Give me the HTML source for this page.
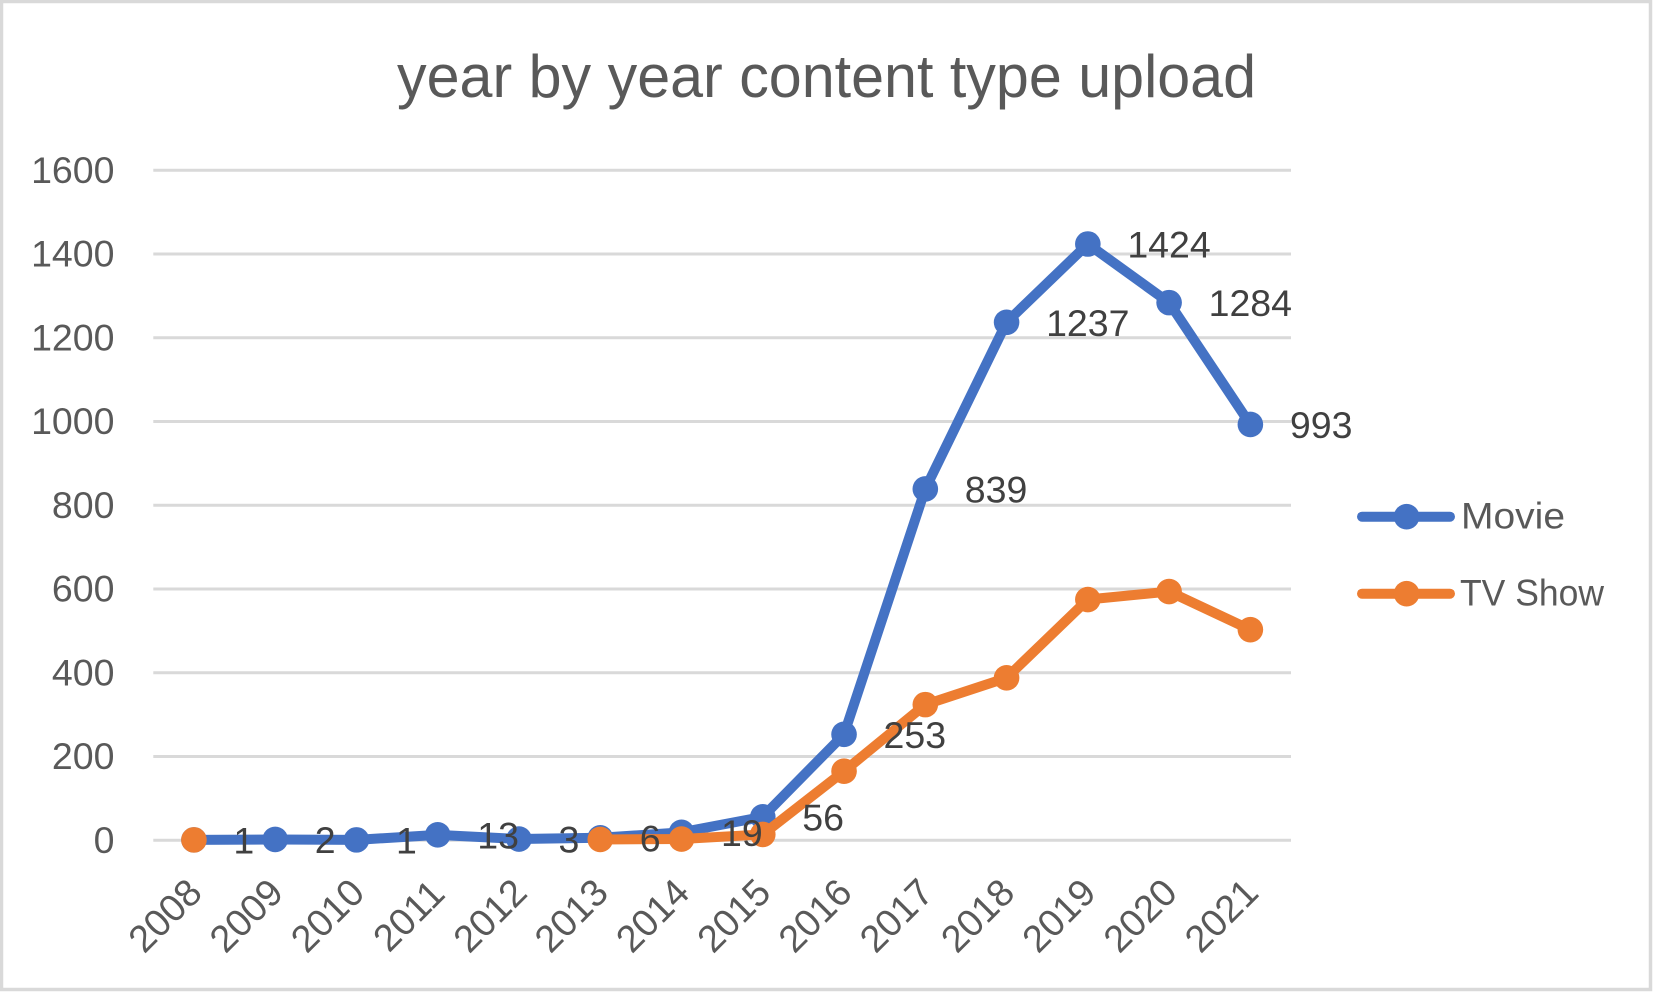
<!DOCTYPE html>
<html lang="en">
<head>
<meta charset="utf-8">
<title>year by year content type upload</title>
<style>
  html, body { margin: 0; padding: 0; background: #fff; }
  body { width: 1653px; height: 992px; overflow: hidden; }
  svg { display: block; font-family: "Liberation Sans", sans-serif; }
</style>
</head>
<body>
<svg id="chart" width="1653" height="992" viewBox="0 0 1653 992" xmlns="http://www.w3.org/2000/svg">
  <rect x="1.5" y="1.5" width="1649" height="988" fill="#ffffff" stroke="#d9d9d9" stroke-width="3.5"/>
  <text x="397" y="97" font-size="60" fill="#595959" textLength="859" lengthAdjust="spacingAndGlyphs">year by year content type upload</text>
  <g id="grid"></g>
  <g id="yticks"></g>
  <g id="xticks"></g>
  <g id="series"></g>
  <g id="labels"></g>
  <g>
    <g>
      <line x1="1362" y1="516.7" x2="1450" y2="516.7" stroke="#4472c4" stroke-width="10" stroke-linecap="round"/>
      <circle cx="1406.6" cy="516.7" r="12.8" fill="#4472c4"/>
      <text x="1461" y="528.5" font-size="37.5" fill="#595959" textLength="104" lengthAdjust="spacingAndGlyphs">Movie</text>
    </g>
    <g>
      <line x1="1362" y1="593.7" x2="1450" y2="593.7" stroke="#ed7d31" stroke-width="10" stroke-linecap="round"/>
      <circle cx="1406.6" cy="593.7" r="12.8" fill="#ed7d31"/>
      <text x="1460" y="605.5" font-size="37.5" fill="#595959" textLength="144" lengthAdjust="spacingAndGlyphs">TV Show</text>
    </g>
  </g>
</svg>
<script>
const categories = ["2008","2009","2010","2011","2012","2013","2014","2015","2016","2017","2018","2019","2020","2021"];
const movieValues = [1,2,1,13,3,6,19,56,253,839,1237,1424,1284,993];
const tvValues = [1,null,null,null,null,2,3,14,165,324,388,575,594,503];
const yTickValues = [0,200,400,600,800,1000,1200,1400,1600];

const NS = "http://www.w3.org/2000/svg";
const plotLeft = 153.3, plotRight = 1291, plotBottom = 840.3, plotTop = 170.3, yMax = 1600;
const xScale = i => plotLeft + (i + 0.5) * (plotRight - plotLeft) / categories.length;
const yScale = v => plotBottom - v * (plotBottom - plotTop) / yMax;

function make(tag, parentId, attrs) {
  const el = document.createElementNS(NS, tag);
  for (const k in attrs) el.setAttribute(k, attrs[k]);
  document.getElementById(parentId).appendChild(el);
  return el;
}

yTickValues.forEach(v => {
  const grid = make("line", "grid", {x1: plotLeft, x2: plotRight, y1: yScale(v), y2: yScale(v), stroke: "#d9d9d9", "stroke-width": 3});
  
  
  const tick = make("text", "yticks", {x: 114.5, y: yScale(v) + 12.5, "text-anchor": "end", "font-size": 37.5, fill: "#595959"});
  
  
  tick.textContent = v;
});

categories.forEach((c, i) => {
  const cx = xScale(i) - 29, cy = 915.5;
  const tick = make("text", "xticks", {x: 0, y: 13, "text-anchor": "middle", "font-size": 38, fill: "#595959", transform: `translate(${cx} ${cy}) rotate(-45)`});
  
  
  tick.textContent = c;
});

function drawSeries(values, color, key) {
  let run = [];
  const flush = () => {
    if (run.length > 1) {
      const line = make("polyline", "series", {points: run.join(" "), fill: "none", stroke: color, "stroke-width": 10, "stroke-linejoin": "round", "stroke-linecap": "round"});
      
      
    }
    run = [];
  };
  values.forEach((v, i) => {
    if (v === null) { flush(); return; }
    run.push(xScale(i) + "," + yScale(v));
  });
  flush();
  values.forEach((v, i) => {
    if (v === null) return;
    const dot = make("circle", "series", {cx: xScale(i), cy: yScale(v), r: 12.8, fill: color});
    
    
  });
}
drawSeries(movieValues, "#4472c4", "movie");
drawSeries(tvValues, "#ed7d31", "tv-show");

movieValues.forEach((v, i) => {
  const label = make("text", "labels", {x: xScale(i) + 39.5, y: yScale(v) + 13.5, "font-size": 37.5, fill: "#404040"});
  
  
  label.textContent = v;
});
</script>
</body>
</html>
